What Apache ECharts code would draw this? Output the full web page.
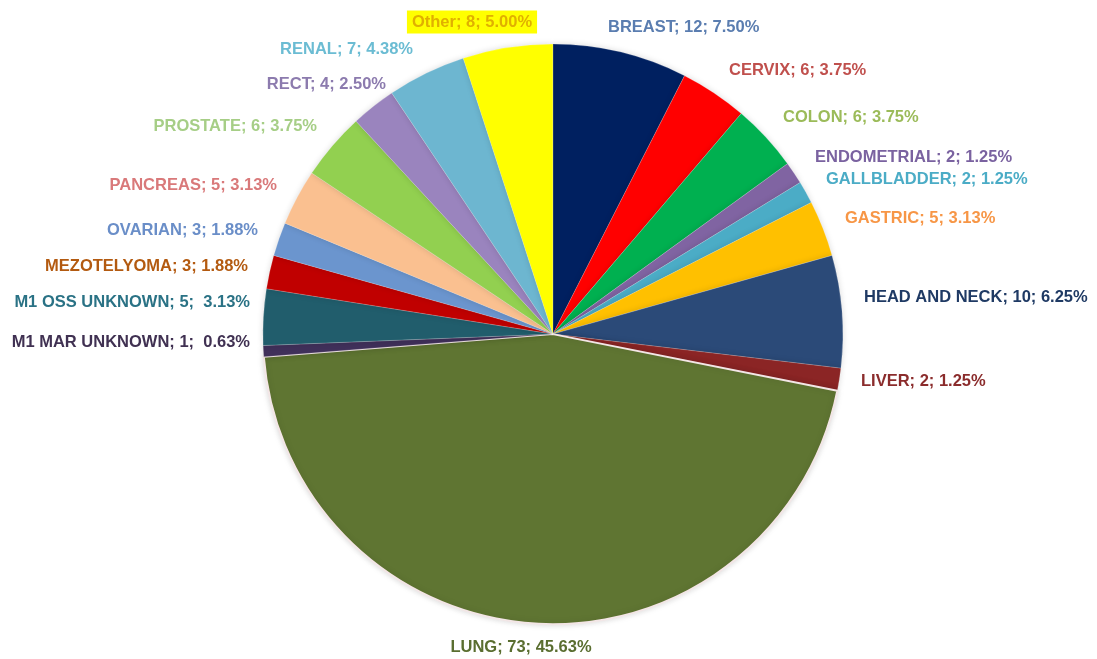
<!DOCTYPE html>
<html><head><meta charset="utf-8">
<script src="https://cdn.jsdelivr.net/npm/echarts@6/dist/echarts.min.js"></script>
<style>html,body{margin:0;padding:0;background:#fff}#c{width:1097px;height:659px}</style>
</head><body><div id="c"></div>
<script>
const categories = ['BREAST','CERVIX','COLON','ENDOMETRIAL','GALLBLADDER','GASTRIC','HEAD AND NECK','LIVER','LUNG','M1 MAR UNKNOWN','M1 OSS UNKNOWN','MEZOTELYOMA','OVARIAN','PANCREAS','PROSTATE','RECT','RENAL','Other'];
const counts = [12,6,6,2,2,5,10,2,73,1,5,3,3,5,6,4,7,8];
const percentLabels = ['7.50%','3.75%','3.75%','1.25%','1.25%','3.13%','6.25%','1.25%','45.63%','0.63%','3.13%','1.88%','1.88%','3.13%','3.75%','2.50%','4.38%','5.00%'];
const percentSeparators = ['; ','; ','; ','; ','; ','; ','; ','; ','; ',';  ',';  ','; ','; ','; ','; ','; ','; ','; '];

// label layout (anchor x, y, horizontal alignment)
const labelX = [608,729,783,815,826,845,864,861,521,250,250,248,258,277,317,386,413,472];
const labelY = [27,70,117,157,179,218,297,381,647,342,302,266,230,185,126,84,49,22];
const labelAlign = ['left','left','left','left','left','left','left','left','center','right','right','right','right','right','right','right','right','center'];

const sliceColors = ['#002060','#FF0000','#00B050','#8064A2','#4BACC6','#FFC000','#2B4A78','#8B2525','#5F7532','#40305A','#215D6C','#C00000','#6B95CE','#FAC090','#92D050','#9A84BE','#6DB6D0','#FFFF00'];
const labelColors = ['#5A7DB0','#C0504D','#9BBB59','#7A62A0','#4BACC6','#F79646','#1F3A64','#8B2C2C','#5A6E30','#403152','#2A7285','#B35A10','#6A8EC8','#D9797A','#A6CE86','#8C7BAE','#6BBCD3','#E0B000'];

const data = categories.map((n,i)=>({
  name:n, value:counts[i],
  itemStyle:{color:sliceColors[i], borderColor: n==='LUNG' ? '#f3e6e6' : 'rgba(255,255,255,0.35)', borderWidth: n==='LUNG'?2:0.5},
  label:{color:labelColors[i],
    backgroundColor: n==='Other' ? '#FFFF00' : 'transparent',
    padding: n==='Other' ? [3,5] : 0}
}));

const chart = echarts.init(document.getElementById('c'));
chart.setOption({
  animation:false,
  series:[{
    type:'pie',
    center:['50.4%','50.7%'],
    radius:290,
    startAngle:90,
    clockwise:true,
    data:data,
    avoidLabelOverlap:false,
    label:{show:true, position:'outside', fontFamily:'Liberation Sans, Arial, sans-serif', fontWeight:'bold', fontSize:16.5,
      formatter:p=>p.name+'; '+p.value+percentSeparators[p.dataIndex]+percentLabels[p.dataIndex]},
    labelLine:{show:false, length:18, length2:0},
    labelLayout:function(p){
      const i=p.dataIndex;
      return {x:labelX[i], y:labelY[i], align:labelAlign[i], verticalAlign:'middle'};
    },
    itemStyle:{shadowBlur:6, shadowColor:'rgba(0,0,0,0.15)'}
  }]
});
</script></body></html>
